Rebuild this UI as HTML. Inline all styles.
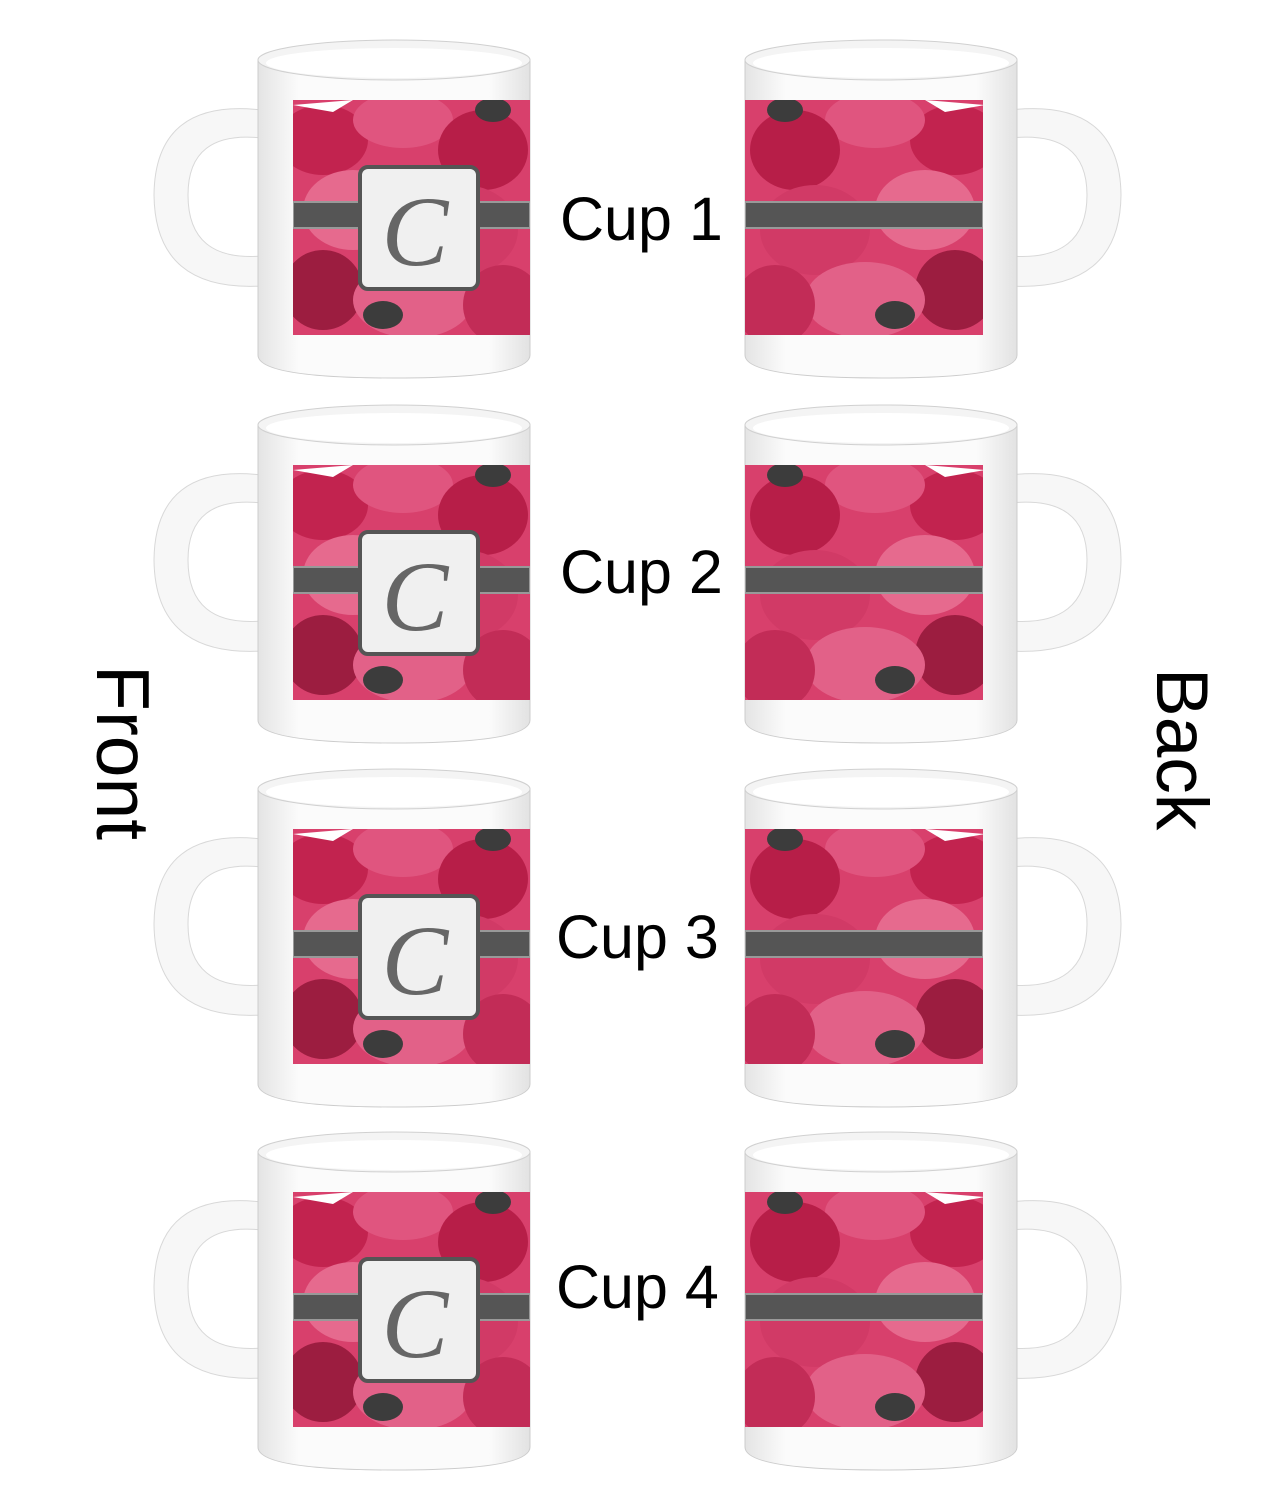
<!DOCTYPE html>
<html><head><meta charset="utf-8"><style>
html,body{margin:0;padding:0;background:#fff;width:1275px;height:1500px;overflow:hidden}
svg{display:block}
</style></head><body>
<svg width="1275" height="1500" viewBox="0 0 1275 1500" xmlns="http://www.w3.org/2000/svg">
<defs>
<linearGradient id="body" x1="0" x2="1">
<stop offset="0" stop-color="#e4e4e4"/><stop offset="0.15" stop-color="#fbfbfb"/><stop offset="0.85" stop-color="#fbfbfb"/><stop offset="1" stop-color="#e2e2e2"/>
</linearGradient>
<clipPath id="pf"><rect x="293" y="100" width="237" height="235"/></clipPath>
<clipPath id="pb"><rect x="745" y="100" width="238" height="235"/></clipPath>
<g id="flowers">
<rect x="0" y="0" width="240" height="240" fill="#d8406c"/>
<ellipse cx="30" cy="40" rx="45" ry="35" fill="#c2234f"/>
<ellipse cx="110" cy="20" rx="50" ry="28" fill="#e0557f"/>
<ellipse cx="190" cy="50" rx="45" ry="40" fill="#b71e48"/>
<ellipse cx="60" cy="110" rx="50" ry="40" fill="#e66a8e"/>
<ellipse cx="170" cy="130" rx="55" ry="45" fill="#d13a66"/>
<ellipse cx="30" cy="190" rx="40" ry="40" fill="#9c1d40"/>
<ellipse cx="120" cy="200" rx="60" ry="38" fill="#e26188"/>
<ellipse cx="210" cy="205" rx="40" ry="40" fill="#c22c57"/>
<ellipse cx="90" cy="215" rx="20" ry="14" fill="#3c3c3c"/>
<ellipse cx="200" cy="10" rx="18" ry="12" fill="#3c3c3c"/>
<path d="M0 5 L60 0 L40 12 Z" fill="#fff"/>
</g>
<g id="mug">
<path d="M258 60 Q258 45 395 42 Q530 45 530 60 L530 355 Q530 378 395 378 Q258 378 258 355 Z" fill="url(#body)" stroke="#ccc"/>
<ellipse cx="394" cy="60" rx="136" ry="20" fill="#f4f4f4" stroke="#d0d0d0"/>
<ellipse cx="394" cy="63" rx="128" ry="15" fill="#fff"/>
</g>
<g id="front">
<path d="M262 110 Q155 98 154 195 Q155 292 262 286 L262 256 Q188 262 188 195 Q188 130 262 138 Z" fill="#f7f7f7" stroke="#d8d8d8"/>
<use href="#mug"/>
<g clip-path="url(#pf)"><use href="#flowers" transform="translate(293,100)"/>
<rect x="293" y="202" width="237" height="26" fill="#555" stroke="#999" stroke-width="2"/></g>
<rect x="360" y="167" width="118" height="122" rx="8" fill="#f0f0f0" stroke="#555" stroke-width="4"/>
<text x="415" y="265" font-family="Liberation Serif,serif" font-style="italic" font-size="100" fill="#666" text-anchor="middle">C</text>
</g>
<g id="back">
<path d="M1010 110 Q1120 98 1121 195 Q1120 292 1010 286 L1010 256 Q1087 262 1087 195 Q1087 130 1010 138 Z" fill="#f7f7f7" stroke="#d8d8d8"/>
<use href="#mug" transform="translate(487,0)"/>
<g clip-path="url(#pb)"><use href="#flowers" transform="translate(745,100) scale(-1,1) translate(-240,0)"/>
<rect x="745" y="202" width="238" height="26" fill="#555" stroke="#999" stroke-width="2"/></g>
</g>
</defs>
<g><use href="#front"/><use href="#back"/></g>
<g transform="translate(0,365)"><use href="#front"/><use href="#back"/></g>
<g transform="translate(0,729)"><use href="#front"/><use href="#back"/></g>
<g transform="translate(0,1092)"><use href="#front"/><use href="#back"/></g>
<g font-family="Liberation Sans,sans-serif" font-size="61" fill="#000">
<text x="560" y="240">Cup 1</text>
<text x="560" y="593">Cup 2</text>
<text x="556" y="958">Cup 3</text>
<text x="556" y="1308">Cup 4</text>
<text transform="translate(97,665) rotate(90)" font-size="75">Front</text>
<text transform="translate(1157,668) rotate(90)" font-size="73">Back</text>
</g>
</svg>
</body></html>
